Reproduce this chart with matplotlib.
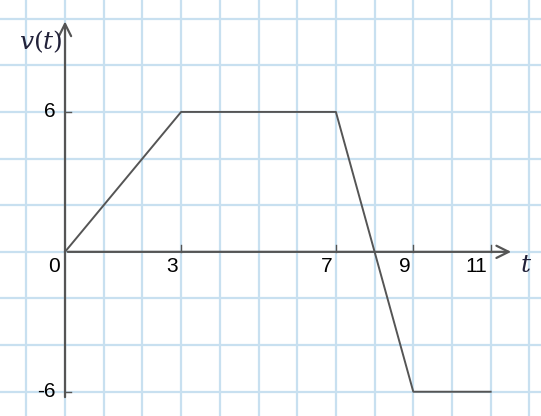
import matplotlib.pyplot as plt
import numpy as np

# velocity graph v(t)
t = np.array([0, 3, 7, 9, 11])
v = np.array([0, 6, 6, -6, -6])

xtick_vals = [3, 7, 9, 11]
ytick_vals = [6, -6]

fig = plt.figure(figsize=(5.41, 4.16), dpi=100)
ax = fig.add_axes([0, 0, 1, 1])
ax.set_xlim(-1.68, 12.3)
ax.set_ylim(-7.04, 10.8)

# blue grid paper
ax.set_xticks(np.arange(-1, 13, 1))
ax.set_yticks(np.arange(-6, 11, 2))
ax.grid(True, color='#c8e0f0', linewidth=1.6)
ax.tick_params(length=0, labelbottom=False, labelleft=False)
for s in ax.spines.values():
    s.set_visible(False)

axis_col = '#555555'
# axes with open arrow heads
ax.annotate('', xy=(11.6, 0), xytext=(0, 0),
            arrowprops=dict(arrowstyle='->', color=axis_col, lw=1.6, mutation_scale=22))
ax.annotate('', xy=(0, 10.0), xytext=(0, -6.35),
            arrowprops=dict(arrowstyle='->', color=axis_col, lw=1.6, mutation_scale=22))

# the graph
ax.plot(t, v, color='#555555', lw=1.4, zorder=3)

# small tick marks
for xv in xtick_vals:
    ax.plot([xv, xv], [0, 0.3], color=axis_col, lw=1)
for yv in ytick_vals:
    ax.plot([0, 0.15], [yv, yv], color=axis_col, lw=1)

# labels
ax.text(-0.12, -0.2, '0', fontsize=15, family='Liberation Sans', ha='right', va='top')
for xv in xtick_vals:
    ax.text(xv - 0.08, -0.2, str(xv), fontsize=15, family='Liberation Sans', ha='right', va='top')
for yv in ytick_vals:
    ax.text(-0.25, yv, str(yv), fontsize=15, family='Liberation Sans', ha='right', va='center')

ax.text(-0.07, 9.0, '$v(t)$', fontsize=18, color='#22223a', ha='right', va='center',
        math_fontfamily='dejavuserif')
ax.text(11.75, -0.55, '$t$', fontsize=18, color='#22223a', ha='left', va='center',
        math_fontfamily='dejavuserif')

fig.savefig('out.png', dpi=100)
